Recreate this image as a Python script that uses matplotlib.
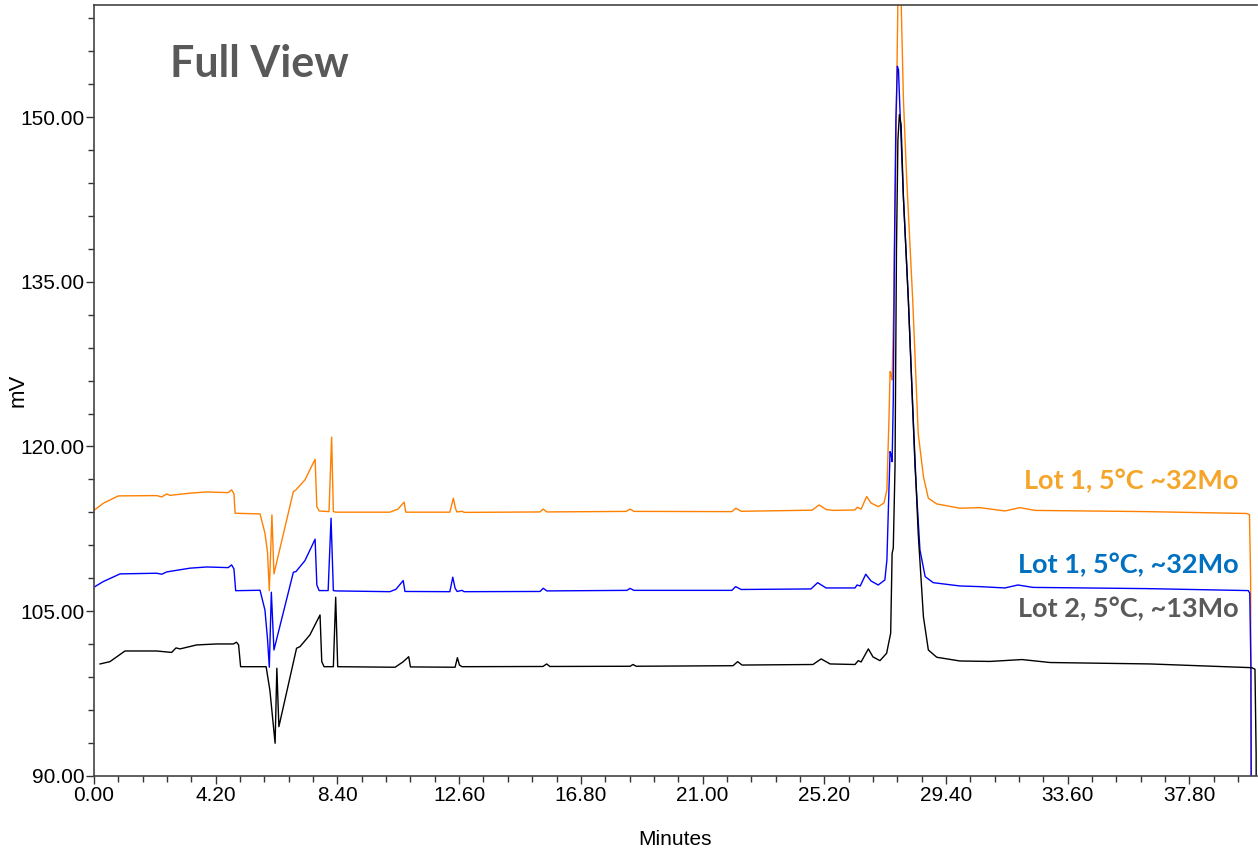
import numpy as np
import matplotlib.pyplot as plt
from matplotlib.ticker import MultipleLocator, FormatStrFormatter

# ------------------------------------------------------------
# 資料：三條層析圖 (minutes, mV)
# ------------------------------------------------------------
lot1_a_t = [0.00, 0.32, 0.84, 2.16, 2.34, 2.51, 2.62, 3.31, 3.89, 4.63, 4.75, 4.83, 4.87,
            5.73, 5.90, 5.99, 6.05, 6.14, 6.21, 6.88, 6.97, 7.28, 7.63, 7.69, 7.77, 8.11,
            8.20, 8.26, 8.35, 10.21, 10.49, 10.70, 10.76, 12.28, 12.40, 12.47, 12.52,
            12.71, 12.77, 15.39, 15.50, 15.63, 18.36, 18.50, 18.63, 22.01, 22.15, 22.33,
            24.78, 25.02, 25.26, 25.51, 26.26, 26.34, 26.47, 26.66, 26.81, 27.06, 27.26,
            27.36, 27.43, 27.47, 27.50, 27.54, 27.57, 27.60, 27.67, 27.74, 27.78, 27.85,
            27.93, 28.04, 28.25, 28.44, 28.62, 28.79, 29.08, 29.88, 30.57, 31.43, 31.95,
            32.47, 36.32, 39.77, 39.87, 39.91, 39.94]
lot1_a_mv = [114.18, 114.83, 115.50, 115.53, 115.41, 115.68, 115.55, 115.75, 115.86, 115.80,
             116.05, 115.70, 113.92, 113.86, 112.10, 110.30, 106.88, 113.77, 108.40, 115.89,
             116.05, 116.96, 118.84, 114.53, 114.13, 114.07, 120.85, 114.07, 114.02, 114.02,
             114.30, 114.93, 114.02, 114.02, 115.29, 114.40, 114.04, 114.10, 114.00, 114.04,
             114.30, 114.04, 114.09, 114.30, 114.09, 114.07, 114.38, 114.10, 114.20, 114.68,
             114.27, 114.18, 114.22, 114.47, 114.30, 115.44, 114.86, 114.52, 114.86, 116.05,
             122.40, 126.82, 126.60, 126.06, 129.70, 133.35, 147.00, 160.70, 163.50, 160.70,
             151.60, 144.50, 133.35, 121.20, 117.26, 115.29, 114.77, 114.38, 114.43, 114.13,
             114.43, 114.18, 114.07, 113.90, 113.80, 108.00, 78.70]

lot1_b_t = [0.00, 0.32, 0.90, 2.16, 2.34, 2.51, 3.31, 3.89, 4.63, 4.75, 4.83, 4.89, 5.73,
            5.90, 5.99, 6.05, 6.12, 6.21, 6.88, 6.97, 7.28, 7.63, 7.69, 7.77, 8.08, 8.18,
            8.26, 8.35, 10.21, 10.42, 10.67, 10.73, 12.28, 12.38, 12.46, 12.53, 12.70,
            12.77, 15.39, 15.50, 15.63, 18.39, 18.50, 18.63, 22.01, 22.14, 22.33, 24.74,
            24.97, 25.26, 26.26, 26.33, 26.44, 26.63, 26.81, 27.06, 27.29, 27.36, 27.43,
            27.47, 27.51, 27.54, 27.58, 27.62, 27.67, 27.72, 27.76, 27.81, 27.93, 28.10,
            28.33, 28.50, 28.68, 28.96, 29.88, 30.57, 31.43, 31.88, 32.40, 36.32, 39.83,
            39.88, 39.92, 39.94]
lot1_b_mv = [107.19, 107.70, 108.40, 108.46, 108.37, 108.58, 108.92, 109.03, 108.97, 109.22,
             108.85, 106.87, 106.91, 105.10, 102.40, 99.90, 106.73, 101.47, 108.55, 108.61,
             109.61, 111.56, 107.39, 106.88, 106.88, 113.47, 106.88, 106.85, 106.78, 107.00,
             107.79, 106.80, 106.78, 108.10, 107.10, 106.80, 106.90, 106.78, 106.80, 107.09,
             106.85, 106.90, 107.08, 106.90, 106.90, 107.24, 106.98, 107.03, 107.60, 107.12,
             107.12, 107.39, 107.30, 108.37, 107.76, 107.39, 107.85, 109.67, 116.05, 119.53,
             119.23, 118.62, 124.24, 137.90, 149.74, 154.62, 154.30, 150.65, 142.67, 133.35,
             118.17, 110.58, 108.15, 107.60, 107.30, 107.24, 107.12, 107.39, 107.17, 107.06,
             106.88, 106.64, 100.00, 78.70]

lot2_t = [0.21, 0.55, 1.07, 2.16, 2.68, 2.83, 2.97, 3.54, 4.23, 4.81, 4.92, 4.99, 5.06,
          5.94, 6.07, 6.25, 6.31, 6.38, 6.99, 7.11, 7.45, 7.80, 7.86, 7.94, 8.26, 8.34,
          8.41, 10.39, 10.66, 10.86, 10.92, 12.46, 12.54, 12.61, 12.70, 15.49, 15.62,
          15.73, 18.50, 18.60, 18.71, 22.05, 22.21, 22.36, 24.81, 25.09, 25.40, 26.26,
          26.37, 26.47, 26.72, 26.88, 27.12, 27.35, 27.49, 27.54, 27.58, 27.64, 27.69,
          27.74, 27.79, 27.85, 27.93, 28.10, 28.27, 28.44, 28.62, 28.79, 29.08, 29.88,
          30.92, 32.02, 32.99, 36.44, 39.95, 40.06, 40.10, 40.11]
lot2_mv = [100.20, 100.41, 101.38, 101.38, 101.25, 101.66, 101.57, 101.93, 102.02, 102.02,
           102.18, 101.93, 99.95, 99.95, 97.80, 92.98, 99.81, 94.49, 101.63, 101.78, 102.84,
           104.66, 100.41, 99.95, 99.95, 106.27, 99.95, 99.90, 100.38, 100.86, 99.93, 99.90,
           100.77, 100.10, 99.95, 99.97, 100.20, 99.97, 99.99, 100.15, 99.99, 100.04, 100.41,
           100.10, 100.15, 100.66, 100.20, 100.15, 100.50, 100.38, 101.57, 100.84, 100.50,
           101.17, 103.00, 110.28, 110.74, 118.17, 137.90, 147.90, 150.22, 149.29, 142.67,
           133.35, 122.40, 112.10, 104.50, 101.47, 100.81, 100.47, 100.43, 100.60, 100.33,
           100.20, 99.86, 99.72, 92.00, 78.70]

labels = ['Lot 1, 5°C ~32Mo', 'Lot 1, 5°C, ~32Mo', 'Lot 2, 5°C, ~13Mo']
label_y = [116.9, 109.2, 105.2]

line_colors = ['#ff8000', '#0000ff', '#000000']
text_colors = ['#f5a52a', '#0070c0', '#5a5a5a']

x_ticks = [0.00, 4.20, 8.40, 12.60, 16.80, 21.00, 25.20, 29.40, 33.60, 37.80]
y_ticks = [90.00, 105.00, 120.00, 135.00, 150.00]

sans = ['Liberation Sans Narrow', 'Liberation Sans', 'DejaVu Sans']

# ------------------------------------------------------------
# 繪圖
# ------------------------------------------------------------
fig = plt.figure(figsize=(12.58, 8.58), dpi=100)
ax = fig.add_axes([0.0747, 0.0956, 0.9245, 0.8986])

traces = [(lot1_a_t, lot1_a_mv), (lot1_b_t, lot1_b_mv), (lot2_t, lot2_mv)]
for (t, mv), c in zip(traces, line_colors):
    ax.plot(t, mv, color=c, lw=1.0, solid_joinstyle='round')

ax.set_xlim(0, 40.13)
ax.set_ylim(90, 160.2)

ax.set_xticks(x_ticks)
ax.set_yticks(y_ticks)
ax.xaxis.set_minor_locator(MultipleLocator(0.84))
ax.yaxis.set_minor_locator(MultipleLocator(3))
ax.xaxis.set_major_formatter(FormatStrFormatter('%.2f'))
ax.yaxis.set_major_formatter(FormatStrFormatter('%.2f'))
ax.tick_params(which='major', length=6, width=1, color='#333333', pad=1)
ax.tick_params(which='minor', length=4, width=1, color='#333333')
for lab in ax.get_xticklabels() + ax.get_yticklabels():
    lab.set_family(sans)
    lab.set_fontsize(15)

for s in ['left', 'bottom', 'top']:
    ax.spines[s].set_color('#444444')
    ax.spines[s].set_linewidth(1.2)
ax.spines['right'].set_visible(False)

ax.set_xlabel('Minutes', family=sans, fontsize=15, va='center')
ax.xaxis.set_label_coords(0.5, -0.083)
ax.set_ylabel('mV', family=['Liberation Sans', 'DejaVu Sans'], fontsize=16)
ax.yaxis.set_label_coords(-0.056, 0.5)

ax.text(2.62, 154.8, 'Full View', color='#595959', fontsize=31, fontweight='bold',
        family=['Lato', 'DejaVu Sans'], ha='left', va='center')

for lab, yv, c in zip(labels, label_y, text_colors):
    ax.text(39.48, yv, lab, color=c, fontsize=19.5, fontweight='bold',
            family=['Lato', 'DejaVu Sans'], ha='right', va='center')

fig.savefig('out.png', dpi=100)
